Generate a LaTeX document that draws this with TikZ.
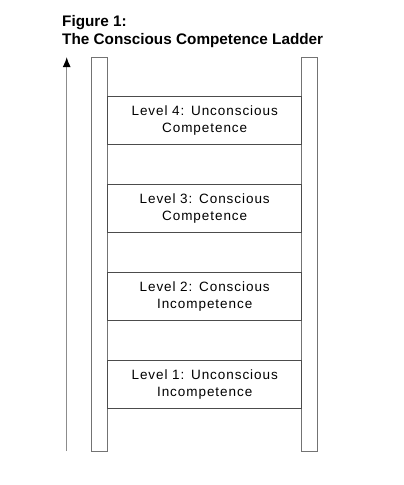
\documentclass[tikz,border=0pt]{standalone}
\usepackage{fontspec}
\setmainfont{Liberation Sans}
\newfontfamily\rungfont[LetterSpace=7]{Liberation Sans}
\usetikzlibrary{arrows.meta,positioning}
\tikzstyle{rail} = [rectangle, minimum width=15.6pt, minimum height=393.7pt, draw=black!55, line width=1pt, inner sep=0pt]
\tikzstyle{rung} = [rectangle, minimum width=194pt, minimum height=47.6pt, text width=190pt, align=center, draw=black!70, line width=1pt, font=\rungfont\fontsize{13.5}{17.5}\selectfont, inner sep=0pt]
\tikzstyle{arrow} = [line width=1.3pt, draw=black!45, -{Latex[length=10pt,width=8pt,black]}]
\begin{document}
\begin{tikzpicture}[x=1pt, y=-1pt, node distance=88pt]
\useasboundingbox (0,0) rectangle (404,485);
\node (title) [anchor=north west, align=left, inner sep=0pt, font=\fontsize{15.3}{18}\selectfont\bfseries] at (62,15) {Figure 1:\\The Conscious Competence Ladder};
	\node (leftrail) [rail] at (99.5,254.2){};
	\node (rightrail) [rail] at (309.5,254.2){};
	\node (l1) [rung] at (204.7,384.5){Level 1: Unconscious\\Incompetence};
	\node (l2) [rung, above of=l1]{Level 2: Conscious\\Incompetence};
	\node (l3) [rung, above of=l2]{Level 3: Conscious\\Competence};
	\node (l4) [rung, above of=l3]{Level 4: Unconscious\\Competence};
\coordinate (base) at (66.7,451);
\coordinate (tip) at (66.7,57);
\draw [arrow] (base) -- (tip);
\end{tikzpicture}
\end{document}
